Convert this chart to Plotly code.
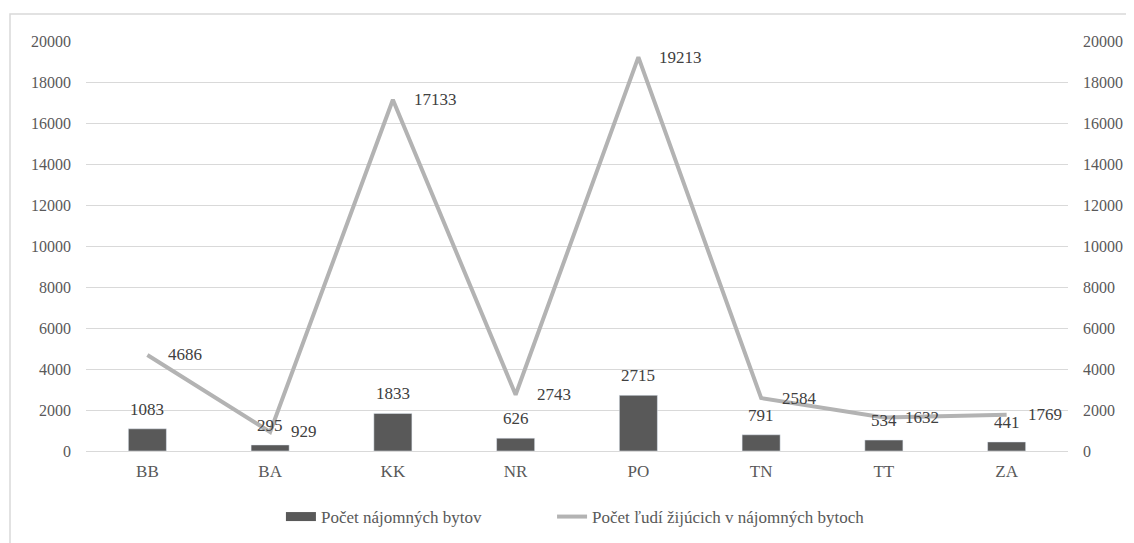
import plotly.graph_objects as go

categories = ["BB", "BA", "KK", "NR", "PO", "TN", "TT", "ZA"]
byty = [1083, 295, 1833, 626, 2715, 791, 534, 441]
ludia = [4686, 929, 17133, 2743, 19213, 2584, 1632, 1769]
y_ticks = list(range(0, 20001, 2000))

name_bar = "Počet nájomných bytov"
name_line = "Počet ľudí žijúcich v nájomných bytoch"

FONT = "Liberation Serif, Times New Roman, DejaVu Serif, serif"
BAR_C = "#595959"
LINE_C = "#b3b3b3"
TICK_C = "#595959"
LBL_C = "#404040"

fig = go.Figure()
fig.add_trace(go.Bar(x=categories, y=byty, marker_color=BAR_C, name=name_bar,
                     showlegend=False, yaxis="y"))
fig.add_trace(go.Scatter(x=categories, y=ludia, mode="lines", name=name_line,
                         line=dict(color=LINE_C, width=4), yaxis="y2", showlegend=False))
# legend entries
fig.add_trace(go.Scatter(x=[None], y=[None], mode="lines", name=name_bar,
                         line=dict(color=BAR_C, width=9), legend="legend"))
fig.add_trace(go.Scatter(x=[None], y=[None], mode="lines", name=name_line,
                         line=dict(color=LINE_C, width=4), legend="legend2"))

ann = []
for c, v in zip(categories, byty):
    ann.append(dict(x=c, y=v, xref="x", yref="y", text=str(v), showarrow=False,
                    yanchor="bottom", yshift=8, font=dict(family=FONT, size=17, color=LBL_C)))
for c, v in zip(categories, ludia):
    ann.append(dict(x=c, y=v, xref="x", yref="y2", text=str(v), showarrow=False,
                    xanchor="left", yanchor="middle", xshift=19,
                    font=dict(family=FONT, size=17, color=LBL_C)))

leg_common = dict(orientation="h", xanchor="left", y=-0.161, yanchor="middle",
                  font=dict(family=FONT, size=17, color=TICK_C))

fig.update_layout(
    width=1134, height=543,
    margin=dict(l=78, r=74, t=33, b=100),
    paper_bgcolor="white", plot_bgcolor="white",
    font=dict(family=FONT, size=17, color=TICK_C),
    bargap=0.69,
    annotations=ann,
    xaxis=dict(showgrid=False, showline=True, linecolor="#d9d9d9", linewidth=1,
               ticks="", ticklabelstandoff=5, tickfont=dict(family=FONT, size=17, color=TICK_C)),
    yaxis=dict(range=[0, 20000], tickvals=y_ticks, tickformat="d", showgrid=True,
               gridcolor="#d9d9d9", gridwidth=1, zeroline=False, ticks="", ticklabelstandoff=14,
               tickfont=dict(family=FONT, size=16, color=TICK_C)),
    yaxis2=dict(range=[0, 20000], tickvals=y_ticks, tickformat="d", overlaying="y", side="right",
                showgrid=False, zeroline=False, ticks="", ticklabelstandoff=14,
                tickfont=dict(family=FONT, size=16, color=TICK_C)),
    legend=dict(x=0.1985, **leg_common),
    legend2=dict(x=0.4746, **leg_common),
    shapes=[dict(type="rect", xref="paper", yref="paper", x0=-0.0774, x1=1.2,
                 y0=-0.5, y1=1.066, line=dict(color="#d9d9d9", width=1.5), layer="below")],
)

fig.write_html("out.html")
